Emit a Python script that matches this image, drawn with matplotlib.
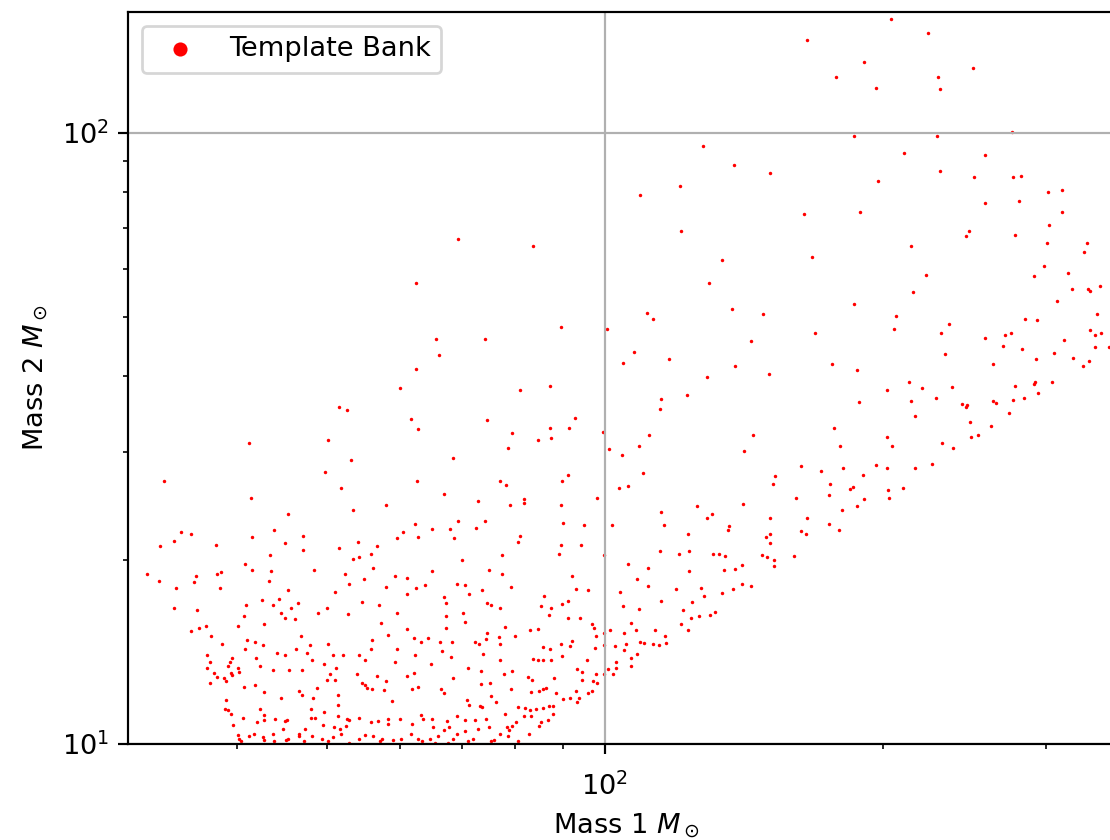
import numpy as np
import matplotlib
matplotlib.use('Agg')
import matplotlib.pyplot as plt

# template bank points (mass 1, mass 2 in solar masses)
m1_top = [204.1, 223.6, 165.5, 190.7, 178.0, 229.5, 250.4, 196.7, 230.5, 276.0,
          186.2, 228.6, 210.7, 257.9, 230.5, 197.2, 250.8, 276.7, 281.9, 301.5,
          312.3, 164.2, 189.0, 258.1, 280.4, 312.3, 302.1, 247.5, 246.1, 277.5,
          127.6, 138.0, 150.7, 120.6, 109.1, 120.8, 69.3]
m2_top = [153.5, 145.8, 142.1, 130.7, 123.6, 123.6, 127.6, 118.3, 118.1, 100.4,
          98.9, 99.0, 92.9, 92.0, 86.8, 83.5, 84.6, 84.8, 85.2, 80.0,
          80.7, 73.6, 74.3, 76.8, 77.4, 74.3, 70.6, 69.2, 67.9, 68.2,
          95.1, 88.5, 86.1, 82.0, 79.2, 69.2, 67.2]

m1_upper = [214.4, 167.4, 300.8, 332.5, 329.8, 298.4, 290.9, 317.2, 222.7, 319.8,
            332.8, 334.8, 343.7, 215.4, 308.2, 186.2, 206.5, 341.1, 284.5, 293.1,
            235.4, 168.8, 205.4, 231.0, 335.0, 338.9, 344.6, 257.7, 270.9, 274.9,
            313.6, 269.5, 282.6, 339.4, 351.3, 233.3, 306.4, 320.6, 292.6, 334.4,
            329.2, 263.1, 176.0, 187.3, 213.5, 220.2, 237.5, 202.1, 277.5, 291.9,
            291.2, 304.8, 294.5, 188.3, 214.4, 228.0, 243.3, 246.7, 246.1, 262.9,
            264.7, 276.2, 283.8, 216.7, 274.0, 248.3, 261.8, 176.8, 202.1, 248.8,
            253.1, 179.4, 204.2, 231.8, 237.9, 162.8, 171.2, 180.9, 196.4, 201.7,
            216.3, 225.9, 190.2,
            175.1, 185.5, 184.0, 202.6, 210.0, 161.0, 174.6, 190.7, 203.0, 180.6,
            187.4, 165.4, 174.8, 179.1, 162.8, 164.9, 160.0]
m2_upper = [65.3, 62.7, 66.1, 66.1, 63.9, 60.6, 58.4, 59.1, 58.6, 55.5,
            55.6, 55.2, 56.1, 54.9, 53.0, 52.5, 50.2, 50.5, 49.7, 49.5,
            48.7, 47.0, 47.7, 47.0, 47.6, 46.7, 47.1, 46.2, 46.7, 47.0,
            45.8, 44.8, 44.3, 44.6, 44.6, 43.5, 43.7, 42.8, 42.6, 42.4,
            41.6, 41.9, 41.8, 40.9, 39.2, 38.3, 38.4, 38.0, 38.5, 39.1,
            38.9, 39.2, 37.6, 36.3, 36.4, 36.8, 36.0, 35.9, 35.6, 36.4,
            36.1, 36.6, 36.9, 34.4, 34.8, 33.6, 33.1, 32.9, 31.8, 31.8,
            32.1, 30.7, 30.7, 31.1, 30.5, 28.5, 28.0, 28.3, 28.6, 28.3,
            28.3, 28.7, 27.6,
            26.6, 26.3, 26.1, 26.0, 26.2, 25.3, 25.6, 25.2, 25.3, 24.2,
            24.5, 23.4, 22.9, 22.4, 22.3, 22.1, 20.3]

m1_middle = [83.5, 133.8, 129.7, 137.1, 148.3, 111.1, 112.8, 89.7, 74.2, 100.6,
             143.7, 107.6, 104.7, 117.3, 138.2, 150.5, 128.8, 80.9, 87.2, 122.7,
             114.9, 114.8, 74.6, 87.2, 91.4, 92.9, 79.4, 84.7, 87.5, 99.5,
             78.5, 111.5, 108.9, 144.5, 141.3, 101.1, 104.3, 110.0, 152.7, 91.1,
             62.5, 65.6, 66.2, 62.5, 60.0, 51.5, 52.6, 61.6, 62.8, 41.2,
             50.2, 53.1, 49.8, 68.5]
m2_middle = [65.3, 62.0, 56.8, 51.6, 50.5, 50.8, 49.6, 48.1, 46.0, 47.8,
             45.6, 43.8, 42.1, 42.6, 41.5, 40.3, 39.8, 38.0, 38.5, 37.3,
             36.7, 35.3, 33.9, 32.9, 32.9, 34.2, 32.3, 31.4, 31.7, 32.4,
             30.5, 32.1, 30.8, 32.0, 30.2, 30.4, 29.7, 27.8, 27.5, 27.6,
             56.9, 46.1, 43.4, 41.1, 38.3, 35.6, 35.2, 34.1, 32.8, 31.1,
             31.4, 29.2, 27.9, 29.4]

m1_low_left = [33.3, 41.4, 51.8, 62.6, 67.0, 45.4, 53.3, 57.9, 62.3, 65.0,
               68.0, 34.8, 35.6, 34.2, 33.0, 37.9, 41.5, 43.8, 47.1, 45.1,
               47.1, 51.5, 54.0, 56.7, 59.5, 60.4, 62.8, 68.7, 43.4, 40.8,
               41.5, 43.5, 48.4, 53.4, 54.2, 55.8, 56.1, 65.0, 31.9, 32.9,
               36.1, 38.0, 38.4, 34.3, 35.9, 38.3, 43.3, 45.4, 52.3, 54.9,
               59.3, 61.0, 63.9, 69.1, 52.9, 58.0, 62.5, 61.1, 67.0, 34.2,
               36.2, 40.9, 42.5, 44.4, 43.7, 45.7, 46.5, 51.0, 54.6, 57.0,
               67.2, 48.9, 50.0, 52.7, 59.5, 44.6, 45.1, 46.2, 40.7, 42.7,
               40.1, 35.6, 36.4, 37.0, 37.5, 57.2, 61.1, 67.2, 67.3, 58.2,
               46.9, 38.5, 41.0, 41.8, 40.8, 42.6, 46.3, 48.0, 50.1, 56.0,
               62.1, 63.2, 64.4, 66.3, 68.3, 37.1, 39.5, 44.2, 45.1, 47.6,
               50.8, 52.1, 54.1, 55.0, 55.8, 59.6, 62.3, 66.6, 68.2, 59.3,
               37.4, 39.3, 39.1, 41.9, 42.3, 48.2, 49.7, 64.8, 37.1, 37.7,
               38.0, 39.4, 40.1, 40.2, 39.5, 43.7, 45.5, 47.0, 51.2, 53.9,
               56.6, 61.1, 62.2, 68.5, 37.4, 38.7, 38.9, 40.7, 41.8, 42.8,
               44.6, 46.7, 47.0, 48.8, 50.4, 50.0, 51.0, 54.6, 55.0, 55.2,
               56.0, 57.6, 58.0, 58.8, 61.8, 62.7, 66.4, 67.0, 51.4, 51.4,
               48.3, 38.9, 38.8, 39.1, 39.4, 39.6, 40.6, 42.3, 42.7, 42.8,
               42.0, 43.9, 45.0, 45.3, 48.1, 49.6, 48.1, 48.5, 51.4, 52.6,
               52.8, 54.1, 55.8, 56.8, 58.2, 58.2, 60.0, 61.8, 63.2, 63.6,
               65.0, 65.1, 67.4, 67.8, 69.2, 52.4, 51.6, 50.9, 49.5, 47.4,
               46.6, 44.8, 43.7, 42.6, 41.7, 41.2, 40.1, 40.2, 40.4, 45.2,
               45.4, 46.6, 48.2, 49.4, 50.8, 51.8, 54.1, 55.0, 56.1, 57.4,
               59.0, 60.2, 61.7, 62.7, 64.6, 66.0, 66.9, 68.5, 69.1, 42.8,
               43.8, 47.2, 50.1, 52.8, 57.1, 63.4, 65.5, 67.7]
m2_low_left = [26.9, 25.3, 26.2, 26.9, 25.7, 23.8, 24.2, 24.6, 22.9, 22.5,
               22.5, 22.2, 22.1, 21.5, 21.1, 21.2, 21.8, 22.4, 21.9, 21.3,
               20.8, 20.9, 21.4, 21.1, 21.7, 22.2, 21.8, 21.7, 20.4, 19.7,
               19.3, 19.2, 19.3, 20.1, 20.2, 20.5, 19.4, 19.2, 18.95, 18.5,
               18.8, 19.0, 19.1, 18.0, 18.4, 18.0, 18.5, 17.9, 19.0, 18.6,
               18.8, 18.7, 18.2, 18.3, 18.3, 18.1, 18.0, 17.6, 17.4, 16.7,
               16.6, 16.9, 17.2, 17.3, 16.9, 16.7, 17.0, 17.7, 17.1, 16.9,
               17.0, 16.4, 16.7, 16.3, 16.4, 16.4, 16.1, 16.0, 16.2, 15.7,
               15.6, 15.3, 15.5, 15.6, 15.0, 15.8, 15.4, 16.2, 15.5, 15.1,
               15.0, 14.6, 14.8, 14.7, 14.3, 14.5, 14.3, 14.5, 14.6, 14.8,
               14.9, 14.7, 14.9, 14.7, 14.7, 14.0, 13.85, 14.1, 14.0, 14.1,
               14.0, 14.0, 14.0, 13.75, 14.3, 14.3, 14.0, 14.2, 13.9, 13.6,
               13.6, 13.6, 13.4, 13.85, 13.4, 13.7, 13.5, 13.5, 13.3, 13.05,
               12.85, 13.05, 13.3, 13.1, 12.95, 13.2, 13.2, 13.2, 13.3, 13.0,
               12.9, 12.9, 13.05, 12.8, 12.6, 12.8, 12.7, 12.4, 12.5, 12.15,
               11.9, 12.2, 12.05, 12.35, 13.0, 12.75, 12.75, 12.6, 12.5, 12.35,
               12.3, 12.25, 12.7, 11.75, 12.3, 12.4, 12.3, 12.1, 12.05, 11.6,
               11.9, 11.8, 11.4, 11.35, 11.2, 10.75, 11.05, 11.4, 11.15, 10.95,
               10.85, 11.0, 10.9, 10.95, 11.4, 11.3, 11.05, 11.05, 11.1, 11.0,
               10.95, 11.05, 10.85, 10.9, 11.0, 10.8, 11.0, 10.8, 11.15, 11.0,
               11.0, 10.65, 10.9, 10.65, 11.1, 10.7, 10.6, 10.65, 10.75, 10.6,
               10.4, 10.6, 10.4, 10.25, 10.4, 10.3, 10.35, 10.2, 10.1, 10.15,
               10.2, 10.3, 10.3, 10.2, 10.25, 10.4, 10.2, 10.35, 10.3, 10.2,
               10.15, 10.2, 10.4, 10.2, 10.2, 10.3, 10.55, 10.2, 10.4, 10.15,
               10.1, 10.1, 10.1, 10.05, 10.1, 10.1, 10.05, 10.05]

m1_low_mid = [76.9, 78.1, 89.9, 72.9, 81.7, 81.7, 89.6, 97.9, 79.0, 69.3,
              72.5, 74.2, 90.0, 95.0, 80.9, 80.5, 89.6, 94.2, 89.2, 99.8,
              77.3, 70.0, 74.8, 77.3, 92.1, 70.6, 73.6, 79.2, 93.0, 95.8,
              71.2, 85.9, 85.3, 87.3, 74.6, 75.2, 77.0, 89.8, 91.1, 70.2,
              70.5, 87.0, 91.2, 94.0, 77.9, 96.8, 97.2, 82.9, 84.6, 74.6,
              76.7, 79.9, 97.7, 72.3, 73.1, 74.4, 76.9, 89.7, 92.1, 91.7,
              99.7, 99.7, 97.5, 73.7, 85.7, 87.2, 89.8, 83.5, 84.7, 85.7,
              87.5, 95.5, 76.9, 71.0, 73.4, 77.7, 79.4, 93.3, 94.4, 97.8,
              99.7, 82.5, 83.4, 94.4, 97.0, 98.1, 88.0, 73.5, 75.1, 79.2,
              83.1, 84.9, 85.7, 86.3, 88.6, 90.1, 91.6, 93.0, 93.7, 95.8,
              96.7, 93.3, 70.9, 71.3, 73.2, 73.6, 75.3, 76.2, 80.5, 81.9,
              83.0, 84.1, 85.7, 86.9, 87.8, 87.9, 86.7, 85.3, 84.8, 83.1,
              81.7, 80.1, 77.9, 78.3, 79.3, 78.7, 76.9, 74.3, 74.9, 72.4,
              70.5, 72.9, 70.5, 82.7, 80.6, 78.6, 75.3, 75.9, 72.0, 71.1]
m2_low_mid = [26.9, 26.5, 26.9, 25.0, 25.2, 24.8, 24.6, 25.3, 24.6, 23.2,
              22.6, 23.2, 23.0, 22.8, 21.9, 21.4, 21.2, 21.2, 20.5, 20.4,
              20.4, 20.0, 19.3, 18.95, 18.8, 18.2, 17.9, 18.1, 17.95, 17.9,
              17.6, 17.45, 16.85, 16.7, 17.0, 16.9, 16.7, 16.95, 17.15, 16.4,
              15.85, 16.25, 16.05, 16.1, 15.55, 15.7, 15.5, 15.35, 15.45, 15.2,
              14.95, 15.0, 15.05, 14.7, 14.6, 14.85, 14.55, 14.6, 14.75, 14.45,
              15.2, 14.5, 14.35, 14.05, 14.4, 14.3, 13.95, 13.8, 13.7, 13.7,
              13.7, 13.75, 13.7, 13.3, 13.15, 13.0, 13.15, 13.25, 13.1, 13.0,
              13.0, 12.85, 12.75, 12.75, 12.7, 12.6, 12.8, 12.55, 12.6, 12.3,
              12.15, 12.2, 12.3, 12.35, 12.1, 11.85, 11.9, 12.2, 11.9, 12.1,
              12.2, 11.7, 11.8, 11.6, 11.55, 11.5, 12.0, 11.7, 11.5, 11.45,
              11.35, 11.4, 11.45, 11.55, 11.55, 11.2, 10.95, 10.85, 10.7, 11.1,
              11.1, 10.85, 11.2, 10.65, 10.7, 10.55, 10.4, 11.0, 10.65, 10.95,
              10.95, 10.6, 10.5, 10.4, 10.1, 10.3, 10.1, 10.15, 10.2, 10.1]

m1_low_right = [103.5, 105.9, 152.0, 101.7, 114.9, 115.8, 125.8, 130.4, 128.8, 141.0,
                136.2, 136.0, 123.1, 150.7, 150.9, 149.2, 150.7, 114.8, 120.2, 123.3,
                130.8, 132.8, 134.7, 147.7, 149.6, 152.2, 152.4, 105.9, 111.3, 123.3,
                134.6, 138.1, 140.8, 108.2, 111.2, 119.3, 126.9, 140.6, 143.7, 103.8,
                128.1, 133.8, 137.7, 115.1, 124.1, 104.7, 108.9, 121.3, 123.8, 126.4,
                129.8, 131.4, 106.8, 120.7, 122.9, 101.2, 104.9, 108.0, 113.2, 116.2,
                109.1, 110.3, 112.7, 114.3, 116.5, 102.6, 105.3, 104.9, 108.2, 106.8,
                102.7, 102.7, 106.7, 102.0, 100.8]
m2_low_right = [26.2, 26.4, 26.6, 22.8, 24.0, 22.8, 24.5, 23.8, 23.4, 24.7,
                22.7, 22.4, 22.1, 23.4, 22.1, 21.8, 21.3, 20.7, 20.5, 20.7,
                20.5, 20.5, 20.3, 20.4, 20.2, 20.0, 19.55, 19.7, 19.4, 19.2,
                19.3, 19.35, 19.6, 18.6, 18.15, 17.95, 18.0, 18.3, 18.15, 17.75,
                17.5, 17.65, 17.95, 17.15, 17.1, 16.8, 16.65, 16.6, 16.1, 16.2,
                16.25, 16.45, 15.8, 15.7, 15.35, 15.35, 15.2, 15.35, 15.35, 15.0,
                14.7, 14.65, 14.55, 14.5, 14.65, 14.45, 14.6, 14.25, 14.05, 13.85,
                13.6, 13.3, 13.4, 13.0, 13.25]

mass1 = np.concatenate([m1_top, m1_upper, m1_middle, m1_low_left, m1_low_mid, m1_low_right])
mass2 = np.concatenate([m2_top, m2_upper, m2_middle, m2_low_left, m2_low_mid, m2_low_right])

DPI = 196
fig = plt.figure(figsize=(1110 / DPI, 840 / DPI), dpi=DPI)
# axes run a little past the right edge of the canvas, like the cropped original
ax = fig.add_axes([128 / 1110, 96 / 840, 997 / 1110, 732 / 840])

ax.scatter(mass1, mass2, s=1.6, c='red', linewidths=0, label='Template Bank')
ax.set_xscale('log')
ax.set_yscale('log')
ax.set_xlim(30.46, 365.4)
ax.set_ylim(10, 157.8)
ax.grid(True)
ax.tick_params(axis='x', which='both', pad=7)
ax.set_xlabel(r'Mass 1 $M_\odot$')
ax.set_ylabel(r'Mass 2 $M_\odot$')
ax.legend(loc='upper left', markerscale=4.1)

fig.savefig('out.png', dpi=DPI)
